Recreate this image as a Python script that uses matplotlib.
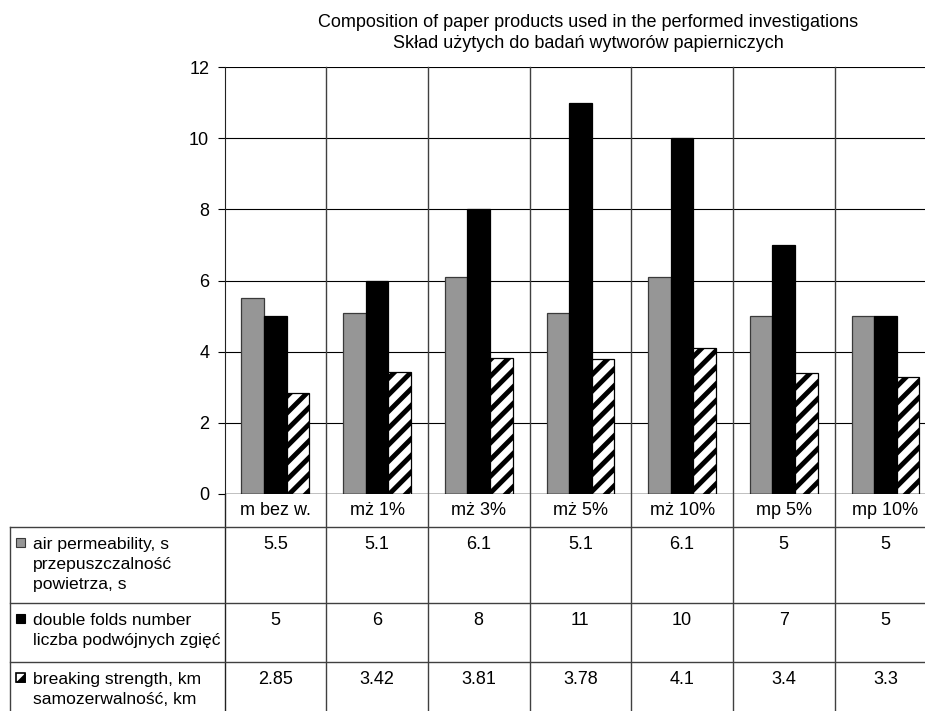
import matplotlib
matplotlib.use("Agg")
import matplotlib.pyplot as plt
import matplotlib.transforms as mtransforms
from matplotlib.lines import Line2D
from matplotlib.patches import Rectangle, Polygon

plt.rcParams['font.family'] = ['Liberation Sans', 'DejaVu Sans']
plt.rcParams['font.size'] = 13
plt.rcParams['hatch.linewidth'] = 3.5

# data
categories = ["m bez w.", "mż 1%", "mż 3%", "mż 5%", "mż 10%", "mp 5%", "mp 10%"]
air_permeability = [5.5, 5.1, 6.1, 5.1, 6.1, 5, 5]
double_folds = [5, 6, 8, 11, 10, 7, 5]
breaking_strength = [2.85, 3.42, 3.81, 3.78, 4.1, 3.4, 3.3]
value_labels = [
    ["5.5", "5.1", "6.1", "5.1", "6.1", "5", "5"],
    ["5", "6", "8", "11", "10", "7", "5"],
    ["2.85", "3.42", "3.81", "3.78", "4.1", "3.4", "3.3"],
]
row_labels = [
    ["air permeability, s", "przepuszczalność", "powietrza, s"],
    ["double folds number", "liczba podwójnych zgięć"],
    ["breaking strength, km", "samozerwalność, km"],
]
title_lines = ["Composition of paper products used in the performed investigations",
               "Skład użytych do badań wytworów papierniczych"]

W, H = 925, 711
fig = plt.figure(figsize=(W / 100, H / 100), dpi=100)

# plot area in pixels (right edge runs past the figure like in the original)
left, right, top, bottom = 224.5, 936.3, 67, 494
ax = fig.add_axes([left / W, (H - bottom) / H, (right - left) / W, (bottom - top) / H])

# pixel coords (y down) and a blend with the data x axis
pix = mtransforms.Affine2D().scale(1 / W, -1 / H).translate(0, 1) + fig.transFigure
blend = mtransforms.blended_transform_factory(ax.transData, pix)

n = len(categories)
w = 1 / 4.5
xs = list(range(n))
ax.bar([x - w for x in xs], air_permeability, w, color='#969696', edgecolor='#3a3a3a', lw=0.9, zorder=3)
ax.bar(xs, double_folds, w, color='black', edgecolor='black', lw=0.9, zorder=3)
ax.bar([x + w for x in xs], breaking_strength, w, color='white', edgecolor='black',
       hatch='//', lw=0.9, zorder=3)

ax.set_xlim(-0.5, n - 0.5)
ax.set_ylim(0, 12)
ax.set_yticks(range(0, 13, 2))
ax.set_xticks([])
ax.yaxis.grid(True, color='black', lw=0.8)
ax.set_axisbelow(True)
for s in ['top', 'right', 'bottom']:
    ax.spines[s].set_visible(False)
ax.spines['left'].set_color('#222222')
ax.axhline(0, color='black', lw=1, zorder=4)
ax.tick_params(axis='y', length=5, width=0.8, pad=6, labelsize=13)

lc = '#404040'
# category boundaries through plot and table
for i in range(n):
    fig.add_artist(Line2D([i + 0.5, i + 0.5], [top, H + 5], transform=blend, color=lc, lw=1))
fig.add_artist(Line2D([left, left], [bottom, H + 5], transform=pix, color='#222222', lw=1))

# table
row_tops = [527, 603, 662]
fig.add_artist(Line2D([10, 10], [row_tops[0], H + 5], transform=pix, color=lc, lw=1))
for yt in row_tops:
    fig.add_artist(Line2D([10, W + 5], [yt, yt], transform=pix, color=lc, lw=1))

for i, c in enumerate(categories):
    fig.text(i, 515, c, transform=blend, ha='center', va='baseline')

for r, yt in enumerate(row_tops):
    base = yt + 22
    for i, v in enumerate(value_labels[r]):
        fig.text(i, base, v, transform=blend, ha='center', va='baseline')
    for k, line in enumerate(row_labels[r]):
        fig.text(33, base + 20 * k, line, transform=pix, ha='left', va='baseline', fontsize=12.6)

# legend keys
ks = 9
kx = 16
key_y = [yt + 22 - 11 for yt in row_tops]
fig.add_artist(Rectangle((kx, key_y[0]), ks, ks, transform=pix, facecolor='#969696',
                         edgecolor='#3a3a3a', lw=0.8))
fig.add_artist(Rectangle((kx, key_y[1]), ks, ks, transform=pix, facecolor='black',
                         edgecolor='black', lw=0.8))
fig.add_artist(Rectangle((kx, key_y[2]), ks, ks, transform=pix, facecolor='white',
                         edgecolor='black', lw=1.2))
y0 = key_y[2]
fig.add_artist(Polygon([(kx + ks, y0), (kx + ks, y0 + ks), (kx, y0 + ks)], closed=True,
                       transform=pix, facecolor='black', edgecolor='black', lw=0.5))

fig.text(588, 27, title_lines[0], transform=pix, ha='center', va='baseline')
fig.text(588, 48, title_lines[1], transform=pix, ha='center', va='baseline')

fig.savefig("out.png", dpi=100)
